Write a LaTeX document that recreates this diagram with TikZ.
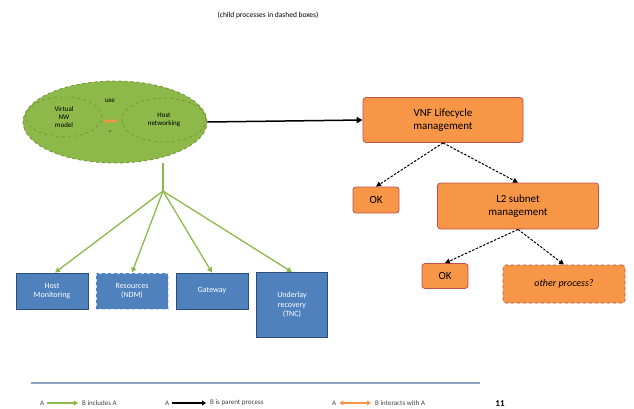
\documentclass[tikz,border=0pt]{standalone}
\usepackage{fontspec}
\setmainfont{Carlito}
\usetikzlibrary{arrows.meta,shapes.geometric}
\definecolor{gfill}{HTML}{8DB84A}
\definecolor{gdraw}{HTML}{6E9233}
\definecolor{ofill}{HTML}{F79646}
\definecolor{odraw}{HTML}{C0504D}
\definecolor{bfill}{HTML}{4F81BD}
\definecolor{bdraw}{HTML}{2C4D75}
\definecolor{rule}{HTML}{8EA3BC}
\tikzset{
  obox/.style={draw=odraw,fill=ofill,rounded corners=3pt,line width=0.8pt,align=center,
    font=\fontsize{11}{12.5}\selectfont,inner sep=0pt},
  bbox/.style={draw=bdraw,fill=bfill,line width=0.8pt,align=center,text=white,
    font=\fontsize{8}{9.5}\selectfont,inner sep=0pt},
  inell/.style={ellipse,draw=gdraw,dashed,line width=0.6pt,align=center,
    font=\fontsize{7}{8}\selectfont,inner sep=0pt},
  blk/.style={draw=black,line width=1.5pt,-{Triangle[length=6pt,width=6pt]}},
  blkd/.style={draw=black,line width=1pt,dash pattern=on 2.5pt off 1.5pt,-{Triangle[length=5pt,width=5pt]}},
  grn/.style={draw=gfill,line width=1.3pt,-{Triangle[length=5pt,width=5pt]}},
  lg/.style={font=\fontsize{7}{8}\selectfont,anchor=west,inner sep=0pt,text=black!75},
}
\begin{document}
\begin{tikzpicture}[x=1pt,y=-1pt]
\useasboundingbox (0,0) rectangle (634,409);
\node[font=\fontsize{7.5}{8}\selectfont] (sub) at (268,15) {(child processes in dashed boxes)};
% green ellipse
\node[ellipse,draw=gdraw,fill=gfill,dashed,line width=0.8pt,minimum width=184pt,minimum height=82pt] (ell) at (115,122) {};
\node[inell,minimum width=76pt,minimum height=40pt] (le) at (64,117) {Virtual\\NW\\model};
\node[inell,minimum width=84pt,minimum height=44pt] (re) at (164,120) {Host\\networking};
\node[font=\fontsize{7}{8}\selectfont,inner sep=1pt] (use) at (110,101) {use};
\coordinate (ua) at (104,121);
\coordinate (ub) at (117,121);
\draw[draw=ofill,line width=1.5pt,{Triangle[length=3pt,width=5pt]}-{Triangle[length=3pt,width=5pt]}] (ua) -- (ub);
\node[font=\fontsize{7}{8}\selectfont,inner sep=1pt] (dash) at (110,132) {--};
% orange
\node[obox,minimum width=160pt,minimum height=45pt] (o1) at (443,120) {VNF Lifecycle\\management};
\node[obox,minimum width=46pt,minimum height=26pt] (ok1) at (376,200) {OK};
\node[obox,minimum width=161pt,minimum height=46pt] (o2) at (518,206) {L2 subnet\\management};
\node[obox,minimum width=46pt,minimum height=25pt] (ok2) at (445,276) {OK};
\node[obox,dashed,minimum width=122pt,minimum height=38pt,font=\fontsize{10}{11.5}\selectfont\itshape] (op) at (564,284) {other process?};
\draw[blk] (ell.east) -- (o1.west);
\draw[blkd] (o1.south) -- (ok1.north);
\draw[blkd] (o1.south) -- (o2.north);
\draw[blkd] (o2.south) -- (ok2.north);
\draw[blkd] (o2.south) -- (op.north);
% blue
\node[bbox,minimum width=72pt,minimum height=36pt] (b1) at (52,291) {Host\\Monitoring};
\node[bbox,dashed,draw=white!70!bfill,minimum width=72pt,minimum height=36pt] (b2) at (132,291) {Resources\\(NDM)};
\node[bbox,minimum width=72pt,minimum height=36pt] (b3) at (212,291) {Gateway};
\node[bbox,minimum width=71pt,minimum height=65pt] (b4) at (292,305) {Underlay\\recovery\\(TNC)};
\coordinate (gv) at (163,191);
\draw[draw=gfill,line width=1.3pt] (ell.south -| gv) -- (gv);
\draw[grn] (gv) -- ([xshift=3pt]b1.north);
\draw[grn] (gv) -- (b2.north);
\draw[grn] (gv) -- (b3.north);
\draw[grn] (gv) -- (b4.north);
% legend
\coordinate (r1) at (31,383);
\coordinate (r2) at (480,383);
\draw[rule,line width=1.2pt] (r1) -- (r2);
\node[lg] (la) at (40,403) {A};
\node[lg] (lat) at (82,403) {B includes A};
\draw[draw=gfill,line width=1.5pt,-{Triangle[length=4pt,width=5pt]}] ([xshift=3pt]la.east) -- ([xshift=-4pt]lat.west);
\node[lg] (lb) at (165,403) {A};
\node[lg] (lbt) at (210,403) {B is parent process};
\draw[draw=black,line width=1.5pt,-{Triangle[length=4pt,width=5pt]}] ([xshift=3pt]lb.east) -- ([xshift=-4pt]lbt.west);
\node[lg] (lc) at (332,403) {A};
\node[lg] (lct) at (375,403) {B interacts with A};
\draw[draw=ofill,line width=1.5pt,{Triangle[length=4pt,width=5pt]}-{Triangle[length=4pt,width=5pt]}] ([xshift=3pt]lc.east) -- ([xshift=-4pt]lct.west);
\node[font=\fontsize{9}{10}\selectfont\bfseries] (pg) at (500,404) {11};
\end{tikzpicture}
\end{document}
